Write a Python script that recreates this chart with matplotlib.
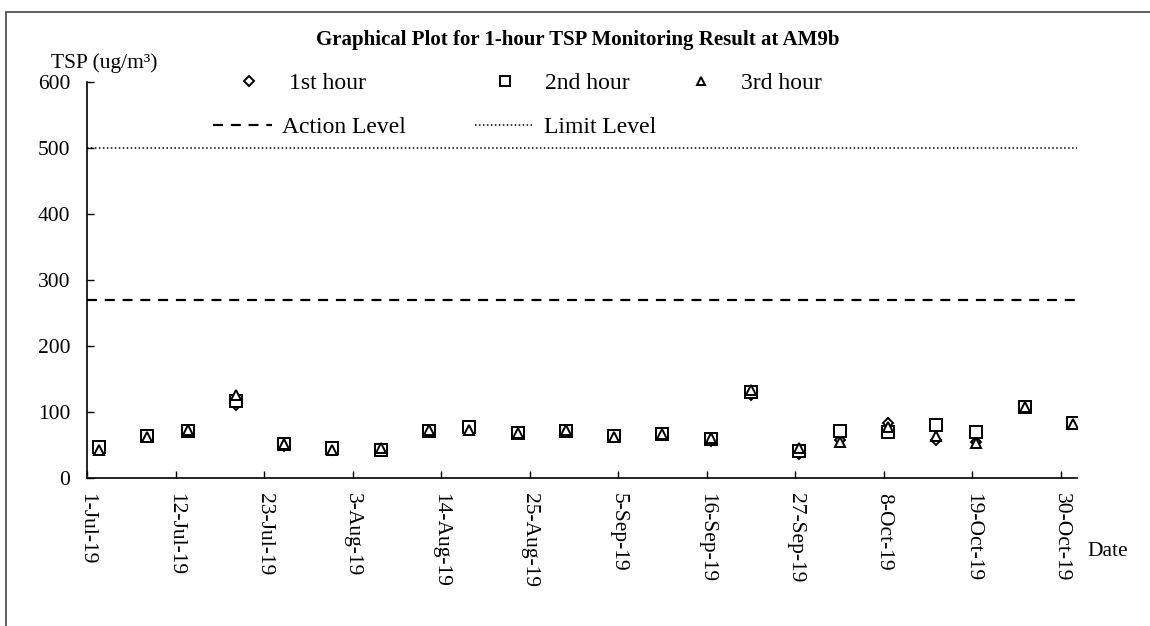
import pandas as pd
import matplotlib
matplotlib.use("Agg")
from matplotlib import pyplot as plt
from matplotlib.patches import Rectangle

plt.rcParams['font.family'] = ['Liberation Serif', 'DejaVu Serif']

# monitoring dates and 1-hour TSP results (ug/m3)
dates = ['2019-07-02', '2019-07-08', '2019-07-13', '2019-07-19', '2019-07-25', '2019-07-31',
         '2019-08-06', '2019-08-12', '2019-08-17', '2019-08-23', '2019-08-29', '2019-09-04',
         '2019-09-10', '2019-09-16', '2019-09-21', '2019-09-27', '2019-10-02', '2019-10-08',
         '2019-10-14', '2019-10-19', '2019-10-25', '2019-10-31']
hour1 = [45, 63, 70, 110, 48, 43, 42, 71, 74, 68, 71, 63, 65, 56, 126, 37, 57, 83, 58, 54, 108, 82]
hour2 = [47, 63, 71, 116, 52, 46, 42, 71, 77, 68, 71, 63, 66, 59, 130, 41, 71, 69, 81, 70, 108, 83]
hour3 = [42, 62, 72, 126, 52, 42, 46, 72, 73, 68, 72, 62, 66, 60, 133, 46, 55, 77, 63, 53, 107, 82]
action_level = 270
limit_level = 500
yticks = [0, 100, 200, 300, 400, 500, 600]

W, H = 1150, 626
fig = plt.figure(figsize=(W / 100, H / 100), dpi=100)
ax = fig.add_axes([87 / W, 1 - 478 / H, (1077 - 87) / W, (478 - 82) / H])

# points sit at mid-day
x = pd.to_datetime(dates) + pd.Timedelta(hours=12)

mk = dict(linestyle='none', markerfacecolor='white', markeredgecolor='black', markeredgewidth=1.4)
ax.plot(x, hour1, marker='D', markersize=5.5, label='1st hour', **mk)
ax.plot(x, hour2, marker='s', markersize=8, label='2nd hour', **mk)
ax.plot(x, hour3, marker='^', markersize=7.5, label='3rd hour', **mk)

xmin, xmax = pd.Timestamp('2019-07-01'), pd.Timestamp('2019-11-01')
ax.plot([xmin, xmax], [action_level] * 2, color='black', lw=1.6, dashes=(4.5, 3.5), label='Action Level')
ax.plot([xmin, xmax], [limit_level] * 2, color='black', lw=1.1, dashes=(1, 1.6), label='Limit Level')

ax.set_xlim(xmin, xmax)
ax.set_ylim(0, 600)
ax.set_yticks(yticks)
ticks = pd.date_range('2019-07-01', '2019-10-30', freq='11D')
ax.set_xticks(ticks)
ax.set_xticklabels([f"{d.day}-{d.strftime('%b-%y')}" for d in ticks], rotation=-90, va='top', ha='center')
ax.tick_params(axis='both', direction='in', length=5, width=1, labelsize=15.5)
ax.tick_params(axis='x', pad=11)
ax.tick_params(axis='y', pad=12)
for s in ['top', 'right']:
    ax.spines[s].set_visible(False)
for s in ['left', 'bottom']:
    ax.spines[s].set_linewidth(1.2)

# legend entries placed one by one, like the original layout
handles, labels = ax.get_legend_handles_labels()
spots = [(208, 83), (464, 83), (660, 83), (201, 127), (463, 127)]
for h, l, (px, py) in zip(handles, labels, spots):
    fig.legend([h], [l], loc='center left', bbox_to_anchor=(px / W, 1 - py / H),
               frameon=False, fontsize=17, borderpad=0, handlelength=2.5,
               handletextpad=0.45, markerscale=0.85)

fig.text(578 / W, 1 - 40 / H, 'Graphical Plot for 1-hour TSP Monitoring Result at AM9b',
         ha='center', va='center', fontsize=15, fontweight='bold')
fig.text(51 / W, 1 - 63 / H, 'TSP (ug/m³)', ha='left', va='center', fontsize=15.5)
fig.text(1108 / W, 1 - 551 / H, 'Date', ha='center', va='center', fontsize=15.5)

fig.add_artist(Rectangle((6 / W, -0.1), 1.2, 1.1 - 12.5 / H, transform=fig.transFigure,
                         fill=False, edgecolor='#444444', lw=1.2))

fig.savefig('out.png', dpi=100)
